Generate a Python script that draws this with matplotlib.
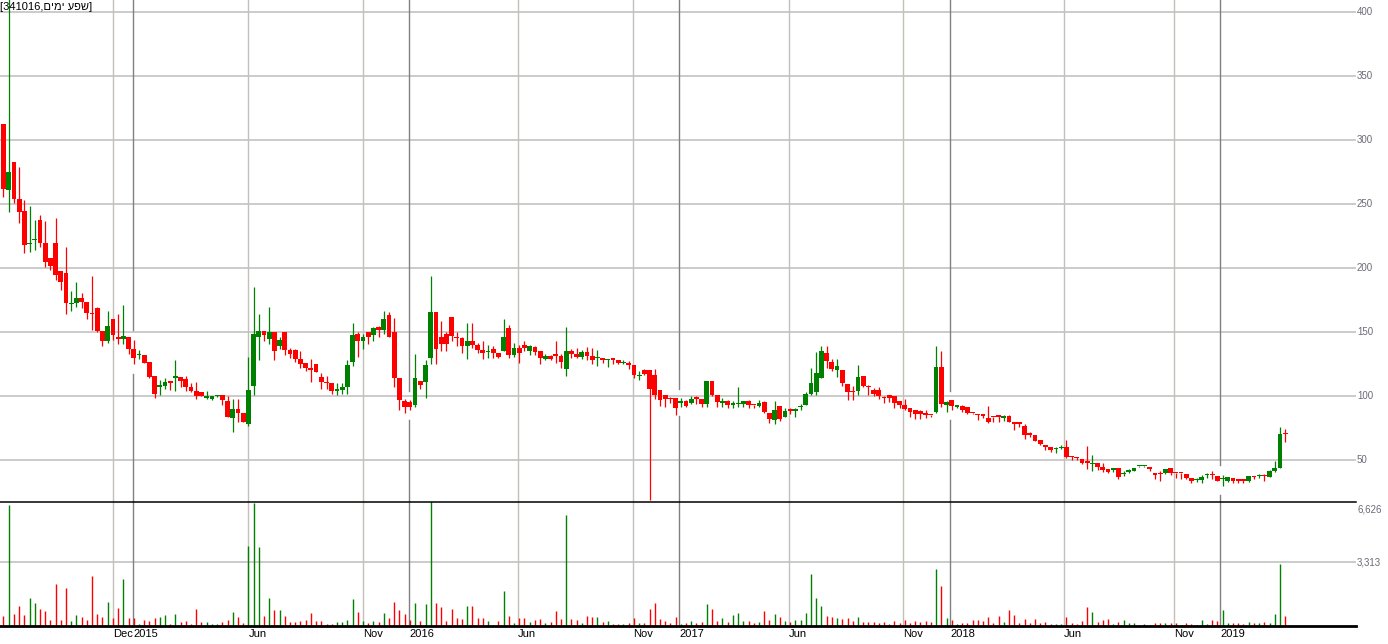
import matplotlib
matplotlib.use("Agg")
import matplotlib.pyplot as plt
from matplotlib.transforms import blended_transform_factory, offset_copy

# ---------------- data (weekly candles) ----------------
opens = [313, 261, 283, 254, 245, 219, 222, 238, 220, 208, 220, 198, 196, 172, 173, 177, 174, 165, 169, 151,
         143, 160, 146, 145, 146, 137, 132, 132, 127, 116, 107, 108, 111, 114, 115, 113.5, 107.5, 104, 103, 99,
         98, 100, 101, 96, 83, 90, 87, 78, 108, 146, 151, 144.5, 150, 139, 150, 136, 136, 129, 126, 121,
         125, 115, 111, 110, 104.5, 105, 107, 127, 149, 143.4, 150, 148, 154, 152, 163.5, 150, 114, 96, 95.5, 93,
         112, 111, 130, 166, 146, 149, 162, 146.3, 145.5, 139.5, 143, 140, 136, 134.5, 137, 134, 135.6, 153, 132.5, 138,
         140, 135.6, 138.5, 135, 129, 131.4, 132, 131.5, 121, 135.4, 133, 130.7, 134.6, 131.5, 129.7, 130, 128, 129, 128.4, 126,
         126.4, 124.5, 115.5, 120.5, 120.5, 117, 105, 101, 98, 98.4, 95, 96, 95, 98.5, 98, 94, 112, 101, 95, 96,
         93.5, 94, 94, 96.6, 93.3, 92.7, 95.3, 87, 81.5, 92.4, 84, 89, 88.3, 91.5, 93, 102, 103, 114.6, 133.8, 127,
         120.5, 120.3, 109.6, 103.5, 104.4, 116, 107.5, 105, 105, 99, 101, 100, 96, 93, 91, 89.3, 88.8, 87, 85.6, 88,
         123, 93.4, 97, 92, 92.2, 91.4, 87, 85.5, 85, 83, 84, 85.4, 83.3, 84.8, 80, 80, 76.8, 70.5, 70, 65.8,
         61, 60, 58.5, 59.5, 60.6, 52.8, 52, 51, 49.7, 47, 47.7, 45, 43, 42.5, 43.8, 39, 40.8, 42, 45.3, 45.3,
         43.7, 39.8, 39.5, 40.3, 43.8, 40, 40, 39.3, 36, 34.3, 34.6, 38.3, 38.6, 37.7, 35, 34.1, 36, 35, 34.6, 34.1,
         37.4, 37.5, 37.8, 37.2, 41.9, 44.2, 71]
highs = [313, 420, 283, 279, 253, 249, 238, 242, 237, 208, 239, 198, 217, 182, 189, 181, 174, 194, 170, 151,
         167, 160, 164, 171, 146, 144, 136, 132, 127, 116, 113, 114, 111, 128, 115, 116, 110, 111, 103, 104,
         100, 101, 101, 100, 98, 98, 87, 131, 185, 164, 151, 170, 150, 146.6, 150, 138, 137, 135, 126, 129,
         125, 118, 116, 110, 110, 110, 128, 157.5, 150, 149, 150, 154, 155, 167, 166, 161, 114, 98, 97, 133,
         112, 128, 194, 166, 159, 150, 162, 150, 146, 157, 157, 142, 143, 140, 139, 134, 160, 156, 142, 140,
         143.5, 140, 139, 135, 133, 132, 143, 133, 154, 137, 137.7, 136, 138.5, 138, 136, 130, 129.5, 129, 128.4, 128,
         127.5, 124.5, 120, 121.6, 120.5, 121.6, 105, 101, 99.5, 98.4, 98.4, 97, 100.5, 100, 98, 112, 112, 101, 99, 97,
         96, 107, 96.5, 97, 93.5, 97, 96, 87, 96, 92.4, 91, 91, 90.5, 94, 103, 122, 134.6, 139.3, 139.3, 129,
         129, 120.3, 109.6, 108, 124.5, 116, 109, 106.6, 107, 100, 101, 100, 96, 98, 91, 89.3, 89, 89, 85.6, 139.3,
         135.4, 96, 97, 93.5, 93, 91.4, 87, 86, 86, 92.7, 84, 85.4, 85.4, 85.5, 80, 80, 78, 72, 70, 65.8,
         62, 60, 60, 62, 66, 53, 52.3, 51, 61, 54, 47.7, 48, 43, 43.5, 44, 42, 43, 44, 45.8, 45.8,
         44, 40, 42, 43.5, 43.8, 40, 40, 39.3, 36, 36, 38.8, 40, 42, 37.7, 38.5, 37, 36, 35, 35.5, 37.7,
         37.7, 39.5, 39.5, 42.4, 49.5, 76.3, 74.5]
lows = [256, 244, 251, 235, 212, 213, 214, 217, 201, 199, 191, 183, 164, 167, 170, 169, 160, 152, 150, 139,
        142, 144, 141, 141, 133, 125, 129, 126, 114, 99, 101, 106, 105, 104, 107, 104, 103, 98, 100, 98,
        97, 99.7, 93, 84, 72, 80, 80, 77, 101, 128, 143, 141, 128, 137, 132, 130, 127, 122, 120, 111,
        119, 106, 106, 102, 101, 102, 102, 124, 131, 137, 141, 143.4, 146.6, 149, 146, 107.5, 89, 87, 89, 92,
        106, 99, 125, 125, 135, 135, 143, 139, 134, 129, 138, 134, 129, 130, 130, 130, 135, 130, 131, 126,
        135, 132, 132, 125, 128, 128, 126, 122, 116, 130, 130, 129, 128, 125, 124, 126, 123, 125.5, 125.5, 125,
        121.6, 114, 113, 117, 19, 98, 92.5, 92, 95, 85, 92, 92, 94, 94, 92, 92, 100, 92, 92, 91,
        91, 92, 92, 91, 91, 92, 87, 79, 78, 81, 84, 86, 84, 89.5, 93, 101, 101, 114, 122, 120,
        115, 108, 97, 97, 101, 107, 101, 100, 98, 95, 95.5, 91, 91, 89, 84, 82, 82, 83, 83.5, 87,
        92, 88, 89, 91, 88, 86, 86, 81.5, 83, 79, 80, 80, 81, 80, 74, 76, 66.6, 68, 65, 62,
        58, 56.5, 56, 59, 51.6, 50, 50, 47, 43, 42, 42.4, 41, 40, 41, 35, 37.5, 40, 41.9, 45, 45,
        42, 35, 34, 39, 38.5, 36, 35, 35, 32, 33.3, 32, 36, 35.6, 34, 30, 33, 32, 32, 32, 33,
        35, 36, 34, 37, 41, 44, 64.6]
closes = [262, 275, 254, 244, 218, 220, 223, 220, 205, 202, 195, 189, 173, 173, 177, 174, 165, 164, 151, 143,
          155, 148, 145, 147, 137, 130, 133, 126, 115, 102, 109, 111, 110.5, 116, 112, 107, 104, 100, 100, 99.5,
          100, 101, 97, 84, 90, 87, 80, 105, 149, 151, 148, 150, 135, 144, 136, 133, 129, 125, 122, 120.8,
          119, 111, 110, 104, 105, 107, 124.5, 148, 143, 146.6, 146.6, 153.6, 152, 160, 146.6, 114.6, 97, 92, 91.4, 114,
          109, 124.5, 166, 137, 141, 141, 147, 145.5, 139.5, 143, 140, 136, 134, 135, 134, 131, 146.3, 132, 137.7, 134,
          138, 139.3, 134.8, 130, 131.7, 129.3, 131.7, 127, 135, 132.8, 130.7, 134.6, 131.5, 128.6, 130.2, 128, 129, 128.5, 125.8, 126.5,
          124.5, 117, 116, 117.4, 106, 101, 97, 97.6, 97.5, 91, 95.5, 92.7, 98, 98, 94, 112, 101, 95.3, 95.5, 93,
          94, 94.6, 96, 93.2, 93, 95, 88, 82, 89, 82, 88.5, 88.8, 90.4, 92, 102, 110.6, 118.4, 135.4, 127.8, 121,
          123.7, 110.6, 103.4, 103, 115, 108.3, 107, 101.6, 100.5, 98.7, 98.7, 94.5, 93.4, 90, 87.5, 86.2, 86, 85, 85.3, 123,
          94, 95.8, 92.7, 92.3, 89.3, 87.2, 86.7, 85, 84.8, 80, 83.6, 83.6, 84.8, 80.2, 78, 78.4, 70, 70, 65.3, 62.7,
          60.6, 58, 59.4, 60.3, 52.8, 52.3, 51.6, 47.7, 47.7, 48, 45, 42.4, 40.6, 43, 36.7, 39.5, 42.4, 44, 45.6, 45.6,
          43.4, 38.8, 39.2, 43.4, 40.3, 39.8, 39.8, 36, 34, 34.6, 37, 38.6, 38.3, 34, 35.3, 36.7, 34.1, 34.1, 34.1, 37.7,
          37, 37.8, 37.6, 41.9, 44.2, 70.5, 70.5]
volumes = [502, 6300, 606, 1020, 554, 1434, 1175, 865, 761, 295, 2159, 295, 1952, 243, 554, 450, 295, 2573, 606, 450,
           1227, 399, 916, 2418, 399, 399, 124, 295, 243, 399, 450, 554, 124, 606, 192, 243, 124, 865, 192, 192,
           88, 88, 192, 295, 709, 450, 140, 4126, 6388, 4074, 502, 1434, 813, 813, 502, 192, 192, 243, 295, 657,
           243, 243, 88, 88, 192, 192, 295, 1382, 709, 243, 140, 243, 192, 657, 399, 1227, 813, 606, 295, 1175,
           243, 1123, 6508, 1175, 968, 243, 865, 399, 347, 1020, 1020, 399, 399, 243, 60, 243, 1796, 502, 140, 399,
           399, 192, 295, 347, 140, 192, 761, 347, 5731, 347, 295, 140, 502, 450, 450, 192, 243, 88, 88, 88,
           140, 399, 140, 140, 865, 1175, 347, 243, 140, 450, 88, 140, 243, 140, 192, 1123, 865, 243, 399, 192,
           554, 657, 243, 243, 140, 192, 761, 295, 606, 450, 243, 192, 295, 295, 657, 2676, 1434, 1020, 502, 450,
           399, 347, 399, 243, 450, 192, 192, 192, 140, 192, 88, 243, 140, 295, 140, 243, 192, 243, 192, 2935,
           2055, 399, 295, 88, 140, 140, 295, 295, 243, 450, 140, 502, 192, 813, 554, 140, 347, 140, 347, 140,
           192, 88, 88, 88, 450, 140, 88, 243, 968, 709, 192, 295, 347, 88, 192, 295, 140, 140, 30, 88,
           30, 140, 140, 140, 140, 140, 30, 140, 88, 30, 295, 88, 295, 243, 813, 140, 140, 140, 88, 192,
           140, 140, 192, 140, 606, 3194, 502]

month_ticks = [20.96, 46.99, 68.94, 98.8, 120.9, 150.8, 172.7, 203.6, 224.7]
month_labels = ["Dec", "Jun", "Nov", "Jun", "Nov", "Jun", "Nov", "Jun", "Nov"]
year_ticks = [24.91, 77.89, 129.7, 181.7, 233.5]
year_labels = ["2015", "2016", "2017", "2018", "2019"]
price_ticks = [50, 100, 150, 200, 250, 300, 350, 400]
volume_ticks = [3313, 6626]
security_id = "341016"
security_name = "שפע ימים"

# ---------------- layout ----------------
W, H = 1388, 644
fig = plt.figure(figsize=(W / 100, H / 100), dpi=100)
fig.patch.set_facecolor("white")
FONT = ["Liberation Sans", "DejaVu Sans"]


def box(l, t, r, b):
    return [l / W, 1 - b / H, (r - l) / W, (b - t) / H]


axp = fig.add_axes(box(0, 0, 1356, 502))
axv = fig.add_axes(box(0, 502, 1356, 626), sharex=axp)

n = len(closes)
xs = list(range(n))
px_per_unit = 5.21
axp.set_xlim(-3.5 / px_per_unit, (1356 - 3.5) / px_per_unit)
axp.set_ylim(17.42, 409.6)
axv.set_ylim(0, 6430)

RED, GREEN = "#ff0000", "#008000"
cols = [GREEN if c >= o else RED for o, c in zip(opens, closes)]

# grid
GRID = "#c3c0bb"
for p in price_ticks:
    axp.axhline(p, color="#bdbdbd", lw=1.1, zorder=0)
axv.axhline(volume_ticks[0], color="#bdbdbd", lw=1.1, zorder=0)
for t in month_ticks:
    axp.axvline(t, color=GRID, lw=1.0, zorder=0)
    axv.axvline(t, color=GRID, lw=1.0, zorder=0)

# year lines (interrupted around the nearest candle in price pane)
gap = 7.5
ylo, yhi = axp.get_ylim()
for t in year_ticks:
    k = int(round(t))
    axp.plot([t, t], [highs[k] + gap, yhi], color="#808080", lw=1.0, zorder=0.5)
    axp.plot([t, t], [ylo, lows[k] - gap], color="#808080", lw=1.0, zorder=0.5)
    axv.axvline(t, color="#808080", lw=1.0, zorder=0.5)

# candles
axp.vlines(xs, lows, highs, colors=cols, lw=0.9, zorder=2)
min_h = 1.1
bottoms = [min(o, c) for o, c in zip(opens, closes)]
heights = [max(abs(c - o), min_h) for o, c in zip(opens, closes)]
axp.bar(xs, heights, bottom=bottoms, width=0.92, color=cols, linewidth=0, zorder=3)

# volume
axv.vlines(xs, 0, volumes, colors=cols, lw=1.0, zorder=2)

for ax in (axp, axv):
    for s in ax.spines.values():
        s.set_visible(False)
    ax.set_xticks([])
    ax.set_yticks([])
    ax.patch.set_alpha(0)
axv.spines["top"].set_visible(True)
axv.spines["top"].set_color("black")
axv.spines["top"].set_linewidth(1.1)
axv.spines["bottom"].set_visible(True)
axv.spines["bottom"].set_color("black")
axv.spines["bottom"].set_linewidth(2.0)

# right-hand labels
LABC = "#6a6a78"
tp = blended_transform_factory(fig.transFigure, axp.transData)
for p in price_ticks:
    fig.text(1357 / W, p, str(p), transform=tp, ha="left", va="center",
             fontsize=7, color=LABC, family=FONT)
tv = blended_transform_factory(fig.transFigure, axv.transData)
fig.text(1357 / W, volume_ticks[0], f"{volume_ticks[0]:,}", transform=tv, ha="left",
         va="center", fontsize=7, color=LABC, family=FONT)
tv_top = offset_copy(blended_transform_factory(fig.transFigure, axv.transAxes), fig=fig, y=-8, units="dots")
fig.text(1357 / W, 1.0, f"{volume_ticks[1]:,}", transform=tv_top, ha="left", va="center",
         fontsize=7, color=LABC, family=FONT)

# bottom date labels
tx = blended_transform_factory(axv.transData, fig.transFigure)
for t, lab in list(zip(month_ticks, month_labels)) + list(zip(year_ticks, year_labels)):
    fig.text(t, 1 - 634 / H, lab, transform=tx, ha="left", va="center",
             fontsize=8, color="black", family=FONT)

# title (Hebrew shown in visual order)
fig.text(0.5 / W, 1 - 7 / H, f"[{security_id},{security_name[::-1]}]", ha="left", va="center",
         fontsize=8, color="black", family=FONT)

fig.savefig("out.png", dpi=100)
